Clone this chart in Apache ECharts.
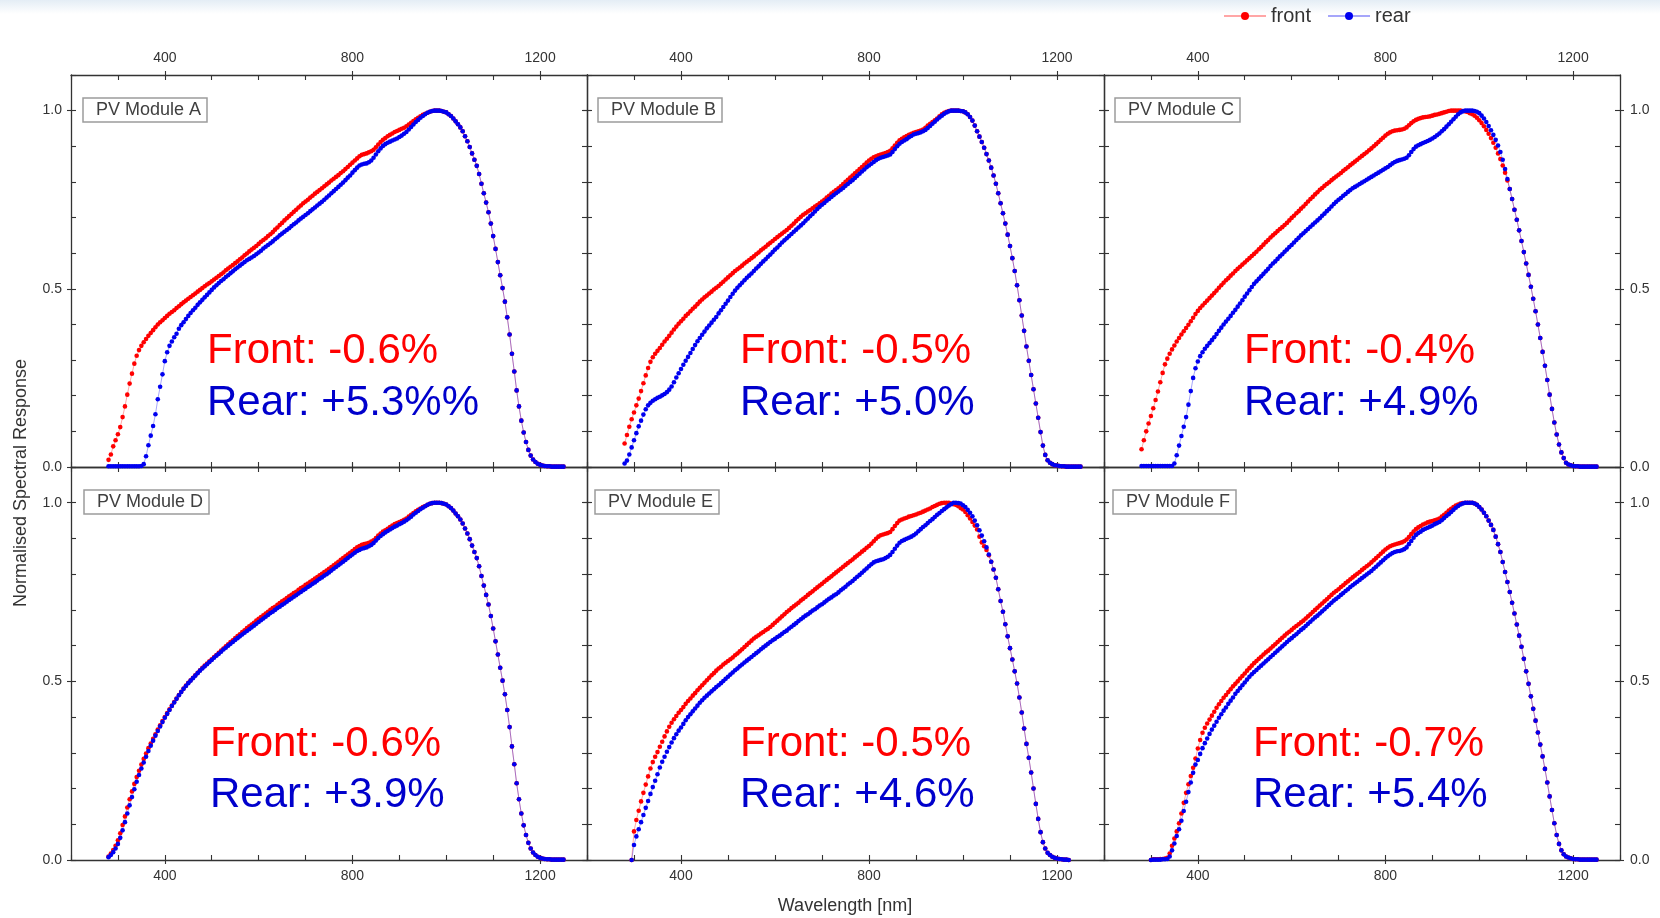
<!DOCTYPE html>
<html>
<head>
<meta charset="utf-8">
<title>Normalised spectral response of PV modules A–F</title>
<script src="https://cdn.jsdelivr.net/npm/echarts@6/dist/echarts.min.js"></script>
<style>
  html, body { margin: 0; padding: 0; background: #ffffff; }
  #chart { width: 1660px; height: 918px; }
</style>
</head>
<body>
<div id="chart"></div>
<script>
// Wavelength sampling [nm]
const wavelength = [
  280,285,290,295,300,305,310,315,320,325,330,335,340,345,350,355,360,365,370,375,
  380,385,390,395,400,405,410,415,420,425,430,435,440,445,450,455,460,465,470,475,
  480,485,490,495,500,505,510,515,520,525,530,535,540,545,550,555,560,565,570,575,
  580,585,590,595,600,605,610,615,620,625,630,635,640,645,650,655,660,665,670,675,
  680,685,690,695,700,705,710,715,720,725,730,735,740,745,750,755,760,765,770,775,
  780,785,790,795,800,805,810,815,820,825,830,835,840,845,850,855,860,865,870,875,
  880,885,890,895,900,905,910,915,920,925,930,935,940,945,950,955,960,965,970,975,
  980,985,990,995,1000,1005,1010,1015,1020,1025,1030,1035,1040,1045,1050,1055,1060,1065,1070,1075,
  1080,1085,1090,1095,1100,1105,1110,1115,1120,1125,1130,1135,1140,1145,1150,1155,1160,1165,1170,1175,
  1180,1185,1190,1195,1200,1205,1210,1215,1220,1225,1230,1235,1240,1245,1250
];

// Normalised spectral response, front and rear illumination
const moduleA_front = [
  0.020,0.035,0.058,0.075,0.092,0.112,0.140,0.170,0.203,0.234,0.262,0.290,0.312,0.328,0.340,0.350,0.359,0.368,0.376,0.384,
  0.392,0.400,0.406,0.412,0.418,0.424,0.430,0.435,0.440,0.446,0.451,0.457,0.462,0.467,0.472,0.477,0.482,0.487,0.492,0.497,
  0.502,0.507,0.512,0.516,0.521,0.526,0.531,0.536,0.541,0.546,0.552,0.557,0.562,0.567,0.572,0.577,0.583,0.588,0.594,0.599,
  0.605,0.610,0.615,0.620,0.626,0.632,0.637,0.642,0.648,0.653,0.659,0.666,0.672,0.679,0.685,0.692,0.698,0.704,0.710,0.716,
  0.722,0.728,0.734,0.740,0.745,0.750,0.756,0.761,0.767,0.772,0.777,0.782,0.788,0.793,0.798,0.804,0.809,0.814,0.819,0.825,
  0.830,0.836,0.842,0.848,0.854,0.860,0.866,0.872,0.876,0.878,0.880,0.883,0.886,0.890,0.897,0.905,0.912,0.918,0.923,0.928,
  0.932,0.936,0.940,0.943,0.946,0.949,0.952,0.956,0.961,0.966,0.971,0.976,0.980,0.984,0.988,0.991,0.994,0.997,0.999,1.000,
  1.000,1.000,0.999,0.997,0.995,0.990,0.985,0.978,0.970,0.962,0.953,0.942,0.928,0.914,0.898,0.880,0.862,0.845,0.822,0.795,
  0.768,0.742,0.715,0.683,0.648,0.612,0.575,0.538,0.502,0.464,0.420,0.372,0.318,0.268,0.215,0.170,0.130,0.097,0.070,0.048,
  0.032,0.021,0.014,0.009,0.006,0.004,0.003,0.002,0.002,0.001,0.001,0.001,0.001,0.001,0.001
];
const moduleA_rear = [
  0.002,0.002,0.002,0.002,0.002,0.002,0.002,0.002,0.002,0.002,0.002,0.002,0.002,0.002,0.003,0.008,0.030,0.061,0.088,0.115,
  0.148,0.190,0.225,0.260,0.297,0.322,0.340,0.352,0.364,0.374,0.388,0.398,0.406,0.415,0.424,0.432,0.440,0.447,0.455,0.462,
  0.469,0.476,0.483,0.490,0.497,0.504,0.510,0.516,0.522,0.527,0.533,0.538,0.544,0.549,0.555,0.560,0.565,0.570,0.575,0.580,
  0.584,0.588,0.592,0.597,0.602,0.607,0.613,0.618,0.623,0.628,0.633,0.639,0.644,0.650,0.655,0.660,0.665,0.670,0.676,0.681,
  0.686,0.692,0.697,0.702,0.707,0.712,0.718,0.723,0.728,0.734,0.739,0.744,0.750,0.756,0.762,0.768,0.774,0.780,0.786,0.792,
  0.798,0.805,0.812,0.818,0.826,0.833,0.840,0.846,0.849,0.851,0.852,0.855,0.860,0.868,0.877,0.886,0.894,0.901,0.906,0.910,
  0.913,0.916,0.919,0.922,0.926,0.930,0.935,0.940,0.947,0.954,0.961,0.968,0.974,0.980,0.985,0.990,0.994,0.997,0.999,1.000,
  1.000,1.000,0.999,0.997,0.995,0.990,0.985,0.978,0.970,0.962,0.953,0.942,0.928,0.914,0.898,0.880,0.862,0.845,0.822,0.795,
  0.768,0.742,0.715,0.683,0.648,0.612,0.575,0.538,0.502,0.464,0.420,0.372,0.318,0.268,0.215,0.170,0.130,0.097,0.070,0.048,
  0.032,0.021,0.014,0.009,0.006,0.004,0.003,0.002,0.002,0.001,0.001,0.001,0.001,0.001,0.001
];
const moduleB_front = [
  0.066,0.090,0.113,0.134,0.153,0.173,0.192,0.213,0.235,0.257,0.278,0.295,0.308,0.318,0.326,0.334,0.343,0.352,0.360,0.368,
  0.377,0.386,0.394,0.402,0.409,0.416,0.424,0.430,0.437,0.444,0.450,0.457,0.464,0.470,0.476,0.481,0.487,0.492,0.498,0.503,
  0.508,0.514,0.520,0.526,0.532,0.538,0.544,0.550,0.555,0.560,0.565,0.571,0.576,0.581,0.586,0.591,0.597,0.602,0.608,0.613,
  0.618,0.624,0.629,0.634,0.640,0.645,0.650,0.655,0.660,0.665,0.671,0.677,0.683,0.690,0.696,0.702,0.708,0.712,0.717,0.721,
  0.726,0.731,0.735,0.740,0.745,0.750,0.756,0.761,0.767,0.772,0.777,0.782,0.788,0.794,0.800,0.806,0.812,0.818,0.824,0.830,
  0.836,0.842,0.848,0.854,0.860,0.865,0.869,0.872,0.875,0.877,0.879,0.881,0.884,0.887,0.894,0.902,0.910,0.917,0.921,0.925,
  0.929,0.932,0.935,0.938,0.940,0.942,0.944,0.947,0.952,0.958,0.963,0.968,0.973,0.978,0.984,0.990,0.994,0.997,0.999,1.000,
  1.000,1.000,1.000,0.999,0.998,0.995,0.990,0.982,0.972,0.958,0.942,0.927,0.912,0.896,0.878,0.860,0.840,0.818,0.795,0.768,
  0.740,0.712,0.683,0.652,0.620,0.586,0.550,0.510,0.468,0.425,0.382,0.338,0.298,0.258,0.218,0.178,0.138,0.098,0.060,0.034,
  0.019,0.012,0.008,0.005,0.004,0.003,0.002,0.002,0.001,0.001,0.001,0.001,0.001,0.001,0.001
];
const moduleB_rear = [
  0.010,0.018,0.035,0.055,0.075,0.095,0.114,0.130,0.147,0.162,0.173,0.180,0.186,0.190,0.194,0.197,0.201,0.205,0.210,0.217,
  0.226,0.238,0.251,0.263,0.275,0.287,0.298,0.309,0.320,0.331,0.342,0.353,0.362,0.371,0.380,0.389,0.397,0.405,0.413,0.421,
  0.431,0.440,0.449,0.458,0.467,0.477,0.486,0.495,0.503,0.510,0.517,0.524,0.531,0.537,0.543,0.550,0.557,0.563,0.570,0.577,
  0.583,0.590,0.596,0.603,0.610,0.616,0.623,0.630,0.636,0.642,0.648,0.654,0.660,0.666,0.672,0.678,0.684,0.691,0.697,0.704,
  0.710,0.717,0.724,0.730,0.736,0.741,0.747,0.752,0.758,0.763,0.768,0.773,0.778,0.783,0.789,0.794,0.800,0.805,0.811,0.817,
  0.823,0.829,0.835,0.841,0.846,0.851,0.856,0.861,0.865,0.868,0.870,0.872,0.874,0.877,0.884,0.892,0.900,0.907,0.912,0.916,
  0.920,0.925,0.929,0.933,0.935,0.937,0.939,0.942,0.946,0.951,0.957,0.963,0.969,0.975,0.981,0.986,0.991,0.995,0.998,1.000,
  1.000,1.000,1.000,0.999,0.998,0.995,0.990,0.982,0.972,0.958,0.942,0.927,0.912,0.896,0.878,0.860,0.840,0.818,0.795,0.768,
  0.740,0.712,0.683,0.652,0.620,0.586,0.550,0.510,0.468,0.425,0.382,0.338,0.298,0.258,0.218,0.178,0.138,0.098,0.060,0.034,
  0.019,0.012,0.008,0.005,0.004,0.003,0.002,0.002,0.001,0.001,0.001,0.001,0.001,0.001,0.001
];
const moduleC_front = [
  0.050,0.075,0.100,0.122,0.143,0.165,0.188,0.212,0.238,0.264,0.288,0.304,0.318,0.330,0.341,0.352,0.362,0.372,0.381,0.390,
  0.399,0.409,0.419,0.429,0.438,0.446,0.453,0.460,0.467,0.474,0.481,0.488,0.495,0.503,0.510,0.517,0.524,0.530,0.537,0.543,
  0.550,0.556,0.562,0.568,0.574,0.580,0.586,0.592,0.598,0.604,0.611,0.617,0.624,0.631,0.637,0.644,0.650,0.656,0.662,0.668,
  0.673,0.679,0.685,0.692,0.699,0.705,0.712,0.718,0.725,0.731,0.738,0.745,0.752,0.758,0.765,0.771,0.778,0.783,0.789,0.794,
  0.799,0.805,0.810,0.815,0.820,0.825,0.831,0.836,0.841,0.847,0.852,0.857,0.862,0.868,0.873,0.878,0.883,0.889,0.894,0.900,
  0.906,0.912,0.918,0.924,0.930,0.935,0.939,0.942,0.944,0.945,0.946,0.947,0.949,0.953,0.959,0.965,0.970,0.974,0.977,0.979,
  0.981,0.982,0.983,0.984,0.986,0.988,0.989,0.991,0.993,0.995,0.997,0.999,1.000,1.000,1.000,1.000,1.000,0.999,0.998,0.996,
  0.993,0.990,0.986,0.980,0.973,0.965,0.956,0.946,0.935,0.923,0.910,0.896,0.880,0.864,0.846,0.826,0.804,0.780,0.752,0.722,
  0.694,0.664,0.634,0.603,0.571,0.539,0.506,0.472,0.437,0.400,0.362,0.323,0.284,0.244,0.203,0.163,0.125,0.091,0.063,0.041,
  0.025,0.012,0.007,0.005,0.003,0.002,0.002,0.001,0.001,0.001,0.001,0.001,0.001,0.001,0.001
];
const moduleC_rear = [
  0.003,0.003,0.003,0.003,0.003,0.003,0.003,0.003,0.003,0.003,0.003,0.003,0.003,0.003,0.010,0.033,0.060,0.087,0.113,0.140,
  0.175,0.213,0.250,0.277,0.296,0.311,0.322,0.332,0.340,0.348,0.356,0.364,0.373,0.382,0.391,0.400,0.408,0.416,0.424,0.433,
  0.441,0.450,0.459,0.468,0.478,0.487,0.496,0.505,0.514,0.521,0.528,0.535,0.542,0.549,0.556,0.564,0.571,0.577,0.584,0.591,
  0.597,0.604,0.610,0.617,0.623,0.630,0.637,0.643,0.650,0.656,0.662,0.668,0.674,0.680,0.686,0.692,0.698,0.705,0.711,0.718,
  0.724,0.731,0.738,0.744,0.750,0.755,0.761,0.766,0.772,0.777,0.782,0.786,0.790,0.794,0.798,0.802,0.806,0.810,0.814,0.818,
  0.822,0.826,0.830,0.834,0.838,0.842,0.847,0.852,0.856,0.859,0.861,0.863,0.865,0.868,0.875,0.884,0.892,0.899,0.903,0.906,
  0.909,0.912,0.915,0.918,0.922,0.926,0.931,0.936,0.942,0.948,0.955,0.962,0.969,0.976,0.983,0.990,0.995,0.998,1.000,1.000,
  1.000,1.000,0.999,0.997,0.993,0.986,0.978,0.968,0.957,0.945,0.932,0.918,0.902,0.884,0.862,0.836,0.808,0.780,0.752,0.722,
  0.694,0.664,0.634,0.603,0.571,0.539,0.506,0.472,0.437,0.400,0.362,0.323,0.284,0.244,0.203,0.163,0.125,0.091,0.063,0.041,
  0.025,0.012,0.007,0.005,0.003,0.002,0.002,0.001,0.001,0.001,0.001,0.001,0.001,0.001,0.001
];
const moduleD_front = [
  0.010,0.018,0.028,0.040,0.055,0.075,0.098,0.122,0.147,0.170,0.192,0.213,0.232,0.250,0.267,0.283,0.298,0.313,0.326,0.339,
  0.352,0.365,0.377,0.389,0.400,0.411,0.422,0.432,0.442,0.452,0.462,0.471,0.480,0.488,0.496,0.503,0.510,0.517,0.524,0.531,
  0.538,0.544,0.550,0.556,0.562,0.568,0.574,0.580,0.586,0.592,0.598,0.604,0.610,0.615,0.621,0.627,0.632,0.638,0.643,0.649,
  0.654,0.659,0.664,0.670,0.675,0.680,0.685,0.690,0.695,0.700,0.705,0.709,0.714,0.719,0.724,0.728,0.733,0.738,0.742,0.747,
  0.751,0.756,0.761,0.765,0.770,0.774,0.779,0.783,0.788,0.792,0.797,0.801,0.806,0.810,0.815,0.820,0.825,0.830,0.835,0.840,
  0.845,0.850,0.855,0.860,0.865,0.870,0.875,0.879,0.882,0.884,0.886,0.888,0.891,0.895,0.901,0.908,0.914,0.919,0.923,0.927,
  0.932,0.936,0.940,0.943,0.946,0.949,0.952,0.956,0.961,0.966,0.971,0.976,0.980,0.984,0.988,0.991,0.994,0.997,0.999,1.000,
  1.000,1.000,0.999,0.997,0.995,0.990,0.985,0.978,0.970,0.962,0.953,0.942,0.928,0.914,0.898,0.880,0.862,0.845,0.822,0.795,
  0.768,0.742,0.715,0.683,0.648,0.612,0.575,0.538,0.502,0.464,0.420,0.372,0.318,0.268,0.215,0.170,0.130,0.097,0.070,0.048,
  0.032,0.021,0.014,0.009,0.006,0.004,0.003,0.002,0.002,0.001,0.001,0.001,0.001,0.001,0.001
];
const moduleD_rear = [
  0.008,0.014,0.022,0.032,0.045,0.062,0.083,0.106,0.130,0.153,0.176,0.198,0.219,0.238,0.256,0.273,0.289,0.305,0.320,0.334,
  0.348,0.361,0.374,0.386,0.398,0.409,0.420,0.431,0.441,0.451,0.461,0.470,0.479,0.487,0.495,0.502,0.509,0.516,0.523,0.530,
  0.536,0.542,0.548,0.554,0.560,0.566,0.572,0.577,0.583,0.589,0.594,0.600,0.605,0.610,0.616,0.621,0.626,0.631,0.636,0.641,
  0.646,0.651,0.656,0.661,0.666,0.671,0.676,0.681,0.686,0.691,0.695,0.700,0.705,0.709,0.714,0.718,0.723,0.728,0.732,0.737,
  0.741,0.746,0.750,0.755,0.759,0.764,0.768,0.773,0.777,0.782,0.787,0.791,0.796,0.800,0.805,0.810,0.815,0.820,0.825,0.830,
  0.835,0.840,0.845,0.850,0.855,0.860,0.865,0.868,0.871,0.873,0.875,0.878,0.882,0.887,0.894,0.901,0.907,0.912,0.917,0.921,
  0.925,0.929,0.933,0.936,0.940,0.943,0.947,0.951,0.956,0.961,0.967,0.972,0.977,0.982,0.986,0.990,0.994,0.997,0.999,1.000,
  1.000,1.000,0.999,0.997,0.995,0.990,0.985,0.978,0.970,0.962,0.953,0.942,0.928,0.914,0.898,0.880,0.862,0.845,0.822,0.795,
  0.768,0.742,0.715,0.683,0.648,0.612,0.575,0.538,0.502,0.464,0.420,0.372,0.318,0.268,0.215,0.170,0.130,0.097,0.070,0.048,
  0.032,0.021,0.014,0.009,0.006,0.004,0.003,0.002,0.002,0.001,0.001,0.001,0.001,0.001,0.001
];
const moduleE_front = [
  null,null,null,0.000,0.080,0.112,0.138,0.164,0.188,0.211,0.234,0.256,0.274,0.289,0.302,0.317,0.331,0.346,0.360,0.373,
  0.384,0.394,0.403,0.412,0.420,0.428,0.437,0.445,0.452,0.460,0.467,0.475,0.482,0.489,0.496,0.503,0.510,0.517,0.523,0.530,
  0.536,0.541,0.547,0.552,0.557,0.562,0.567,0.573,0.578,0.584,0.590,0.596,0.602,0.608,0.614,0.620,0.625,0.629,0.634,0.638,
  0.643,0.647,0.652,0.658,0.664,0.670,0.676,0.682,0.688,0.694,0.699,0.705,0.710,0.715,0.720,0.726,0.731,0.736,0.742,0.747,
  0.752,0.758,0.763,0.768,0.773,0.779,0.784,0.789,0.794,0.800,0.805,0.810,0.815,0.821,0.826,0.831,0.836,0.841,0.847,0.852,
  0.857,0.863,0.868,0.874,0.879,0.885,0.892,0.899,0.905,0.909,0.911,0.913,0.915,0.918,0.926,0.935,0.943,0.950,0.953,0.956,
  0.958,0.961,0.963,0.965,0.967,0.970,0.972,0.975,0.978,0.981,0.984,0.988,0.991,0.994,0.997,0.999,1.000,1.000,1.000,0.998,
  0.996,0.994,0.990,0.985,0.981,0.974,0.965,0.956,0.946,0.936,0.925,0.905,0.889,0.878,0.868,0.853,0.835,0.813,0.790,0.758,
  0.725,0.695,0.660,0.626,0.593,0.561,0.528,0.494,0.455,0.413,0.368,0.325,0.286,0.245,0.200,0.157,0.115,0.078,0.050,0.032,
  0.020,0.014,0.009,0.006,0.004,0.003,0.002,0.001,0.001,0.000,null,null,null,null,null
];
const moduleE_rear = [
  null,null,null,0.000,0.042,0.066,0.086,0.106,0.126,0.146,0.165,0.185,0.204,0.222,0.240,0.259,0.275,0.289,0.303,0.316,
  0.329,0.341,0.352,0.362,0.371,0.381,0.391,0.400,0.408,0.416,0.424,0.432,0.440,0.447,0.454,0.460,0.466,0.472,0.478,0.484,
  0.489,0.495,0.501,0.507,0.513,0.519,0.525,0.531,0.536,0.542,0.547,0.553,0.558,0.563,0.568,0.574,0.579,0.584,0.590,0.595,
  0.600,0.605,0.610,0.615,0.619,0.624,0.628,0.633,0.638,0.642,0.648,0.653,0.658,0.663,0.669,0.674,0.679,0.684,0.688,0.693,
  0.698,0.702,0.707,0.712,0.716,0.721,0.726,0.731,0.735,0.740,0.744,0.749,0.755,0.760,0.765,0.771,0.776,0.781,0.787,0.793,
  0.798,0.804,0.810,0.816,0.822,0.828,0.833,0.836,0.838,0.840,0.842,0.845,0.849,0.854,0.862,0.871,0.880,0.888,0.893,0.896,
  0.899,0.902,0.905,0.909,0.914,0.920,0.926,0.932,0.937,0.943,0.949,0.954,0.960,0.966,0.971,0.977,0.982,0.987,0.992,0.996,
  1.000,1.000,0.999,0.998,0.993,0.988,0.980,0.972,0.962,0.950,0.937,0.923,0.908,0.892,0.875,0.855,0.835,0.813,0.790,0.758,
  0.725,0.695,0.660,0.626,0.593,0.561,0.528,0.494,0.455,0.413,0.368,0.325,0.286,0.245,0.200,0.157,0.115,0.078,0.050,0.032,
  0.020,0.014,0.009,0.006,0.004,0.003,0.002,0.001,0.001,0.000,null,null,null,null,null
];
const moduleF_front = [
  null,null,null,null,0.000,0.002,0.002,0.002,0.003,0.003,0.004,0.006,0.018,0.040,0.060,0.080,0.103,0.130,0.160,0.188,
  0.212,0.235,0.258,0.284,0.312,0.336,0.356,0.370,0.382,0.393,0.404,0.415,0.426,0.436,0.445,0.454,0.462,0.470,0.478,0.486,
  0.493,0.500,0.508,0.515,0.522,0.530,0.537,0.544,0.551,0.557,0.563,0.569,0.575,0.581,0.586,0.592,0.598,0.604,0.610,0.616,
  0.622,0.628,0.634,0.639,0.644,0.650,0.655,0.660,0.665,0.670,0.676,0.682,0.688,0.694,0.700,0.706,0.712,0.718,0.724,0.730,
  0.736,0.742,0.748,0.753,0.758,0.764,0.769,0.775,0.780,0.786,0.791,0.796,0.801,0.806,0.812,0.817,0.822,0.827,0.833,0.839,
  0.845,0.851,0.857,0.863,0.869,0.874,0.878,0.881,0.883,0.885,0.887,0.889,0.892,0.897,0.904,0.912,0.919,0.926,0.931,0.935,
  0.939,0.942,0.945,0.947,0.949,0.951,0.953,0.956,0.961,0.966,0.972,0.978,0.983,0.988,0.992,0.995,0.998,0.999,1.000,1.000,
  1.000,1.000,0.998,0.994,0.988,0.981,0.972,0.962,0.950,0.938,0.924,0.905,0.884,0.862,0.834,0.806,0.778,0.750,0.720,0.690,
  0.659,0.628,0.597,0.563,0.528,0.493,0.458,0.423,0.390,0.357,0.323,0.290,0.255,0.217,0.178,0.140,0.103,0.070,0.045,0.027,
  0.016,0.010,0.007,0.005,0.003,0.002,0.002,0.001,0.001,0.001,0.001,0.001,0.001,0.001,0.001
];
const moduleF_rear = [
  null,null,null,null,0.000,0.001,0.001,0.001,0.001,0.002,0.002,0.003,0.010,0.027,0.046,0.067,0.086,0.110,0.137,0.163,
  0.190,0.217,0.244,0.267,0.280,0.297,0.313,0.327,0.340,0.353,0.365,0.376,0.387,0.398,0.408,0.418,0.427,0.437,0.446,0.455,
  0.465,0.473,0.481,0.489,0.497,0.505,0.513,0.520,0.526,0.532,0.538,0.544,0.550,0.556,0.562,0.568,0.574,0.580,0.586,0.592,
  0.598,0.604,0.610,0.616,0.621,0.627,0.632,0.638,0.644,0.649,0.655,0.661,0.667,0.673,0.679,0.684,0.690,0.696,0.702,0.708,
  0.714,0.720,0.726,0.731,0.736,0.742,0.747,0.753,0.758,0.764,0.769,0.774,0.779,0.784,0.789,0.794,0.799,0.804,0.809,0.815,
  0.821,0.827,0.833,0.839,0.845,0.850,0.855,0.859,0.862,0.864,0.865,0.867,0.870,0.875,0.884,0.893,0.902,0.910,0.915,0.919,
  0.924,0.927,0.930,0.933,0.936,0.940,0.943,0.946,0.951,0.957,0.963,0.968,0.974,0.980,0.986,0.991,0.995,0.998,1.000,1.000,
  1.000,1.000,0.998,0.994,0.988,0.981,0.972,0.962,0.950,0.938,0.924,0.905,0.884,0.862,0.834,0.806,0.778,0.750,0.720,0.690,
  0.659,0.628,0.597,0.563,0.528,0.493,0.458,0.423,0.390,0.357,0.323,0.290,0.255,0.217,0.178,0.140,0.103,0.070,0.045,0.027,
  0.016,0.010,0.007,0.005,0.003,0.002,0.002,0.001,0.001,0.001,0.001,0.001,0.001,0.001,0.001
];

const panelNames = ['PV Module A', 'PV Module B', 'PV Module C', 'PV Module D', 'PV Module E', 'PV Module F'];
const frontChange = ['-0.6%', '-0.5%', '-0.4%', '-0.6%', '-0.5%', '-0.7%'];
const rearChange = ['+5.3%%', '+5.0%', '+4.9%', '+3.9%', '+4.6%', '+5.4%'];
const xTickLabels = [400, 800, 1200];
const yTickLabels = [0, 0.5, 1.0];

const panelSeries = [
  [moduleA_front, moduleA_rear], [moduleB_front, moduleB_rear], [moduleC_front, moduleC_rear],
  [moduleD_front, moduleD_rear], [moduleE_front, moduleE_rear], [moduleF_front, moduleF_rear]
];

// ---- layout & style ----
const FONT = '"Liberation Sans", Arial, Helvetica, sans-serif';
const RED = '#ff0000';
const BLUE = '#0000f0';
const RED_TEXT = '#ff0000';
const BLUE_TEXT = '#0000cc';
const AXIS = '#333333';
const colLeft = [71, 587, 1104];
const colWidth = [516, 517, 516];
const rowTop = [75, 467];
const rowHeight = [392, 393];
const boxOffsetX = [12, 11, 11, 13, 8, 9];
const noteOffsetX = [136, 153, 140, 139, 153, 149];
const frontNoteY = [351.5, 744.5];
const rearNoteY = [403.5, 795.5];

const grids = [], xAxes = [], yAxes = [], series = [], titles = [], graphics = [];

function pairs(values) {
  return wavelength.map((w, i) => [w, values[i]]);
}

panelSeries.forEach((pair, i) => {
  const col = i % 3, row = Math.floor(i / 3);
  grids.push({ left: colLeft[col], top: rowTop[row], width: colWidth[col], height: rowHeight[row] });

  const xBase = {
    type: 'value', gridIndex: i, min: 200, max: 1300, interval: 100,
    splitLine: { show: false }, axisPointer: { show: false }
  };
  const yBase = {
    type: 'value', gridIndex: i, min: 0, max: 1.1, interval: 0.1,
    splitLine: { show: false }, axisPointer: { show: false }
  };
  const line = { show: true, onZero: false, lineStyle: { color: AXIS, width: 1.3 } };
  const noLine = { show: false, onZero: false };
  const minorTick = { show: true, inside: true, length: 5, lineStyle: { color: AXIS, width: 1.1 } };
  const xLabel = (show, margin) => ({
    show, customValues: xTickLabels, margin, fontSize: 14, color: AXIS, fontFamily: FONT,
    formatter: v => String(Math.round(v))
  });
  const yLabel = (show, margin) => ({
    show, customValues: yTickLabels, margin, fontSize: 14, color: AXIS, fontFamily: FONT,
    formatter: v => Number(v).toFixed(1)
  });

  ['bottom', 'top'].forEach(pos => {
    const showLab = pos === 'top' ? row === 0 : row === 1;
    xAxes.push(Object.assign({}, xBase, {
      position: pos, axisLine: line, axisTick: minorTick,
      axisLabel: xLabel(showLab, pos === 'top' ? 10 : 9)
    }));
    xAxes.push(Object.assign({}, xBase, {
      position: pos, axisLine: noLine,
      axisTick: { show: true, inside: false, length: 4, customValues: xTickLabels, lineStyle: { color: AXIS, width: 1.1 } },
      axisLabel: { show: false }
    }));
  });
  ['left', 'right'].forEach(pos => {
    const showLab = pos === 'left' ? col === 0 : col === 2;
    yAxes.push(Object.assign({}, yBase, {
      position: pos, axisLine: line, axisTick: minorTick,
      axisLabel: yLabel(showLab, pos === 'left' ? 9 : 10)
    }));
    yAxes.push(Object.assign({}, yBase, {
      position: pos, axisLine: noLine,
      axisTick: { show: true, inside: false, length: 4, customValues: yTickLabels, lineStyle: { color: AXIS, width: 1.1 } },
      axisLabel: { show: false }
    }));
  });

  [['front', pair[0], RED], ['rear', pair[1], BLUE]].forEach(([name, values, color]) => {
    series.push({
      name, type: 'line', xAxisIndex: 4 * i, yAxisIndex: 4 * i,
      data: pairs(values),
      symbol: 'circle', symbolSize: 4.6, showSymbol: true,
      itemStyle: { color },
      lineStyle: { color, width: 1, opacity: 0.35 },
      emphasis: { disabled: true },
      animation: false
    });
  });

  titles.push({
    text: panelNames[i],
    left: colLeft[col] + boxOffsetX[i],
    top: rowTop[row] + 23,
    padding: [3, 6, 2, 13],
    borderColor: '#9c9c9c', borderWidth: 1.5, backgroundColor: '#ffffff',
    textStyle: { fontSize: 18, fontWeight: 'normal', color: '#404040', fontFamily: FONT, lineHeight: 19 }
  });

  const nx = colLeft[col] + noteOffsetX[i];
  graphics.push({
    type: 'text', x: nx, y: frontNoteY[row], z: 10,
    style: { text: 'Front: ' + frontChange[i], fill: RED_TEXT, fontSize: 42, fontFamily: FONT, align: 'left', verticalAlign: 'middle' }
  });
  graphics.push({
    type: 'text', x: nx, y: rearNoteY[row], z: 10,
    style: { text: 'Rear: ' + rearChange[i], fill: BLUE_TEXT, fontSize: 42, fontFamily: FONT, align: 'left', verticalAlign: 'middle' }
  });
});

// faint band along the top edge
graphics.unshift({
  type: 'rect', z: -1, shape: { x: 0, y: 0, width: 1660, height: 14 },
  style: { fill: new echarts.graphic.LinearGradient(0, 0, 0, 1, [
    { offset: 0, color: '#e4edf5' }, { offset: 1, color: '#ffffff' }
  ]) }
});
graphics.push({
  type: 'text', x: 21, y: 483, rotation: Math.PI / 2, z: 10,
  style: { text: 'Normalised Spectral Response', fill: AXIS, fontSize: 18, fontFamily: FONT, align: 'center', verticalAlign: 'middle' }
});
graphics.push({
  type: 'text', x: 845, y: 906, z: 10,
  style: { text: 'Wavelength [nm]', fill: AXIS, fontSize: 18, fontFamily: FONT, align: 'center', verticalAlign: 'middle' }
});

const chart = echarts.init(document.getElementById('chart'), null, { renderer: 'canvas' });
chart.setOption({
  backgroundColor: '#ffffff',
  animation: false,
  textStyle: { fontFamily: FONT },
  title: titles,
  legend: {
    data: ['front', 'rear'], left: 1223, top: 6, padding: 0,
    itemWidth: 42, itemHeight: 10, itemGap: 16,
    textStyle: { fontSize: 20, color: AXIS, fontFamily: FONT }
  },
  grid: grids,
  xAxis: xAxes,
  yAxis: yAxes,
  series: series,
  graphic: graphics
});
</script>
</body>
</html>
